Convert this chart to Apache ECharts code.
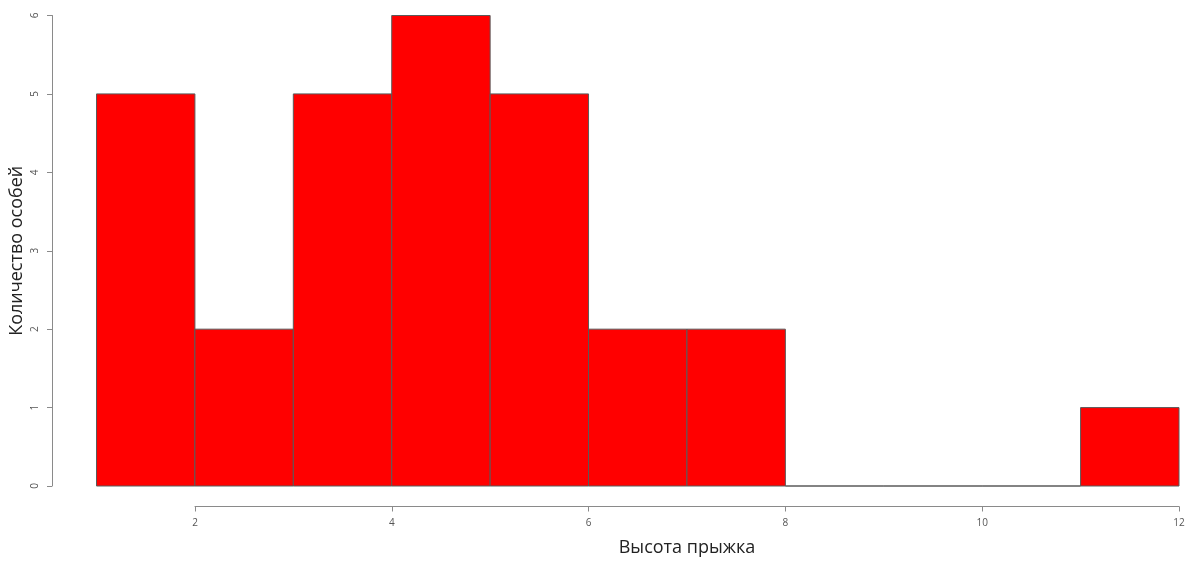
<!DOCTYPE html>
<html>
<head>
<meta charset="utf-8">
<script src="https://cdn.jsdelivr.net/npm/echarts@6/dist/echarts.min.js"></script>
<style>
html,body{margin:0;padding:0;background:#fff;}
#chart{width:1186px;height:561px;}
</style>
</head>
<body>
<div id="chart"></div>
<script>
// Histogram data
var binStarts = [1, 2, 3, 4, 5, 6, 7, 8, 9, 10, 11];
var binEnds   = [2, 3, 4, 5, 6, 7, 8, 9, 10, 11, 12];
var counts    = [5, 2, 5, 6, 5, 2, 2, 0, 0, 0, 1];
var xTitle = 'Высота прыжка';
var yTitle = 'Количество особей';

var data = binStarts.map(function (s, i) { return [s, binEnds[i], counts[i]]; });

var font = '"Open Sans", "Noto Sans", sans-serif';
var chart = echarts.init(document.getElementById('chart'), null, {renderer: 'canvas'});
chart.setOption({
  backgroundColor: '#ffffff',
  animation: false,
  grid: [
    {left: 96.5, right: 7, top: 15.5, bottom: 75, outerBoundsMode: 'none', containLabel: false},
    {left: 195, right: 7, top: 505.5, height: 1, outerBoundsMode: 'none', containLabel: false}
  ],
  xAxis: [
    {type: 'value', gridIndex: 0, min: 1, max: 12, show: false},
    {type: 'value', gridIndex: 1, min: 2, max: 12, interval: 2,
     axisLine: {show: true, lineStyle: {color: '#8a8a8a', width: 1}},
     axisTick: {show: true, length: 5, lineStyle: {color: '#8a8a8a'}},
     axisLabel: {show: true, margin: 12, fontSize: 10, color: '#555', fontFamily: font},
     splitLine: {show: false},
     name: xTitle, nameLocation: 'middle', nameGap: 32, nameMoveOverlap: false,
     nameTextStyle: {fontSize: 18, color: '#222', fontFamily: font}}
  ],
  yAxis: [
    {type: 'value', gridIndex: 0, min: 0, max: 6, interval: 1, offset: 44.5,
     axisLine: {show: true, lineStyle: {color: '#8a8a8a', width: 1}},
     axisTick: {show: true, length: 5, lineStyle: {color: '#8a8a8a'}},
     axisLabel: {show: true, rotate: 90, margin: 12, fontSize: 10, color: '#555', fontFamily: font},
     splitLine: {show: false},
     name: yTitle, nameLocation: 'middle', nameGap: 26, nameRotate: 90, nameMoveOverlap: false,
     nameTextStyle: {fontSize: 18, color: '#222', fontFamily: font}},
    {type: 'value', gridIndex: 1, show: false}
  ],
  series: [{
    type: 'custom',
    xAxisIndex: 0,
    yAxisIndex: 0,
    data: data,
    encode: {x: [0, 1], y: 2},
    renderItem: function (params, api) {
      var p0 = api.coord([api.value(0), api.value(2)]);
      var p1 = api.coord([api.value(1), 0]);
      return {
        type: 'rect',
        shape: {x: p0[0], y: p0[1], width: p1[0] - p0[0], height: p1[1] - p0[1]},
        style: {fill: '#ff0000', stroke: '#5a5a5a', lineWidth: 1}
      };
    }
  }]
});
</script>
</body>
</html>
